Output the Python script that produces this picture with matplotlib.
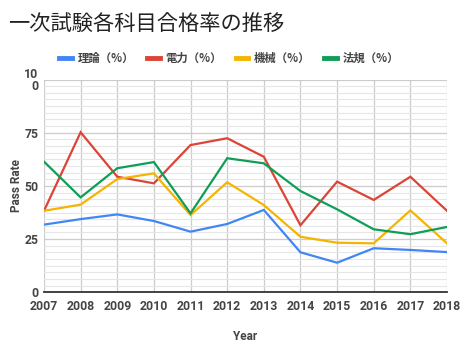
import matplotlib
matplotlib.use("Agg")
import matplotlib.pyplot as plt
from matplotlib.ticker import MultipleLocator, FixedLocator

plt.rcParams['font.family'] = ['Roboto', 'Noto Sans CJK JP', 'DejaVu Sans']

years = [2007, 2008, 2009, 2010, 2011, 2012, 2013, 2014, 2015, 2016, 2017, 2018]
riron = [31.8, 34.4, 36.6, 33.5, 28.5, 32.1, 38.7, 18.8, 13.9, 20.7, 19.9, 18.9]
denryoku = [38.3, 75.2, 54.3, 51.2, 69.2, 72.4, 63.7, 31.5, 52.0, 43.4, 54.3, 38.3]
kikai = [38.3, 41.2, 53.2, 55.9, 36.3, 51.7, 41.0, 26.1, 23.3, 23.0, 38.5, 23.0]
hoki = [61.4, 44.6, 58.3, 61.2, 37.1, 63.0, 60.6, 47.6, 39.0, 29.6, 27.3, 30.7]

series_names = ['理論（%）', '電力（%）', '機械（%）', '法規（%）']
series_values = [riron, denryoku, kikai, hoki]
colors = ['#4285F4', '#DB4437', '#F4B400', '#0F9D58']

y_ticks = [0, 25, 50, 75, 100]
y_tick_labels = ['0', '25', '50', '75', '10\n0']

fig = plt.figure(figsize=(4.65, 3.58), dpi=100)
W, H = 465, 358
ax = fig.add_axes([44 / W, 1 - 292.3 / H, (447 - 44) / W, (292.3 - 79.5) / H])

for name, vals, c in zip(series_names, series_values, colors):
    ax.plot(years, vals, color=c, lw=1.6, label=name, zorder=3, solid_joinstyle='miter')

ax.set_xlim(years[0], years[-1])
ax.set_ylim(0, 100)
ax.set_xticks(years)
ax.set_xticklabels([str(y) for y in years])
ax.yaxis.set_major_locator(FixedLocator(y_ticks))
ax.set_yticklabels(y_tick_labels)
ax.yaxis.set_minor_locator(MultipleLocator(3.125))

ax.grid(which='major', axis='y', color='#cccccc', lw=0.9, zorder=0)
ax.grid(which='minor', axis='y', color='#e6e6e6', lw=0.8, zorder=0)
ax.grid(which='major', axis='x', color='#cccccc', lw=0.9, zorder=0)
ax.tick_params(which='both', length=0)
ax.tick_params(axis='y', labelsize=8.8, labelcolor='#444444', pad=4)
ax.tick_params(axis='x', labelsize=8.8, labelcolor='#444444', pad=5.5)
for lab in ax.get_xticklabels() + ax.get_yticklabels():
    lab.set_fontweight('bold')
for lab in ax.get_yticklabels():
    lab.set_horizontalalignment('right')
    lab.set_multialignment('right')
    lab.set_linespacing(0.95)

for s in ['top', 'right', 'left']:
    ax.spines[s].set_visible(False)
ax.spines['bottom'].set_color('#333333')
ax.spines['bottom'].set_linewidth(1.3)
ax.spines['bottom'].set_zorder(4)

ax.set_ylabel('Pass Rate', fontsize=8.5, fontweight='bold', color='#444444')
ax.yaxis.set_label_coords(-0.052, 0.5)
ax.set_xlabel('Year', fontsize=8.5, fontweight='bold', color='#444444')
ax.xaxis.set_label_coords(0.5, -0.177)

fig.text(8 / W, 1 - 24 / H, '一次試験各科目合格率の推移', fontsize=15.3, color='#222222',
         family=['Noto Sans CJK JP', 'DejaVu Sans'], va='center', ha='left')

leg = fig.legend(loc='center', bbox_to_anchor=(229 / W, 1 - 58 / H), ncol=4, frameon=False,
                 prop={'family': ['Noto Sans CJK JP', 'DejaVu Sans'], 'weight': 'bold', 'size': 8.2},
                 handlelength=1.1, handletextpad=0.5, columnspacing=1.2)
for t in leg.get_texts():
    t.set_color('#444444')
for h in leg.get_lines():
    h.set_linewidth(3.5)

fig.savefig('out.png', dpi=100)
